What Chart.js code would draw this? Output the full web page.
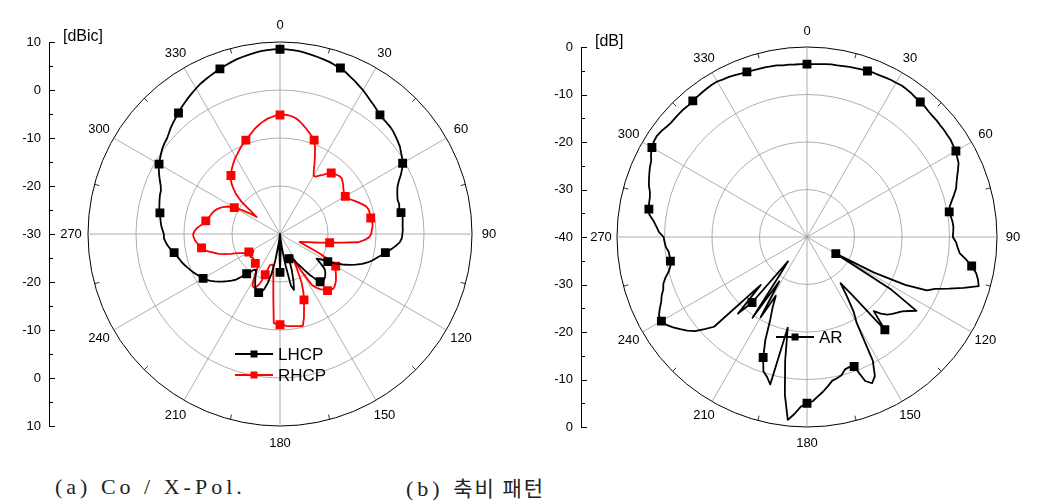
<!DOCTYPE html>
<html>
<head>
<meta charset="utf-8">
<script src="https://cdn.jsdelivr.net/npm/chart.js@4.4.1/dist/chart.umd.min.js"></script>
<style>
  body { margin: 0; background: #fff; width: 1048px; height: 504px; overflow: hidden; position: relative; }
  canvas { position: absolute; top: 0; }
  #c1 { left: 0; }
  #c2 { left: 524px; }
  .cap { position: absolute; top: 473px; height: 28px; line-height: 28px; font-size: 22px;
         font-family: "Liberation Serif", "Noto Sans CJK KR", serif; letter-spacing: 4px;
         color: #222; white-space: pre; }
  .cap span { font-family: "Noto Sans CJK KR", sans-serif; font-size: 21px; letter-spacing: 2px; line-height: 28px; }
</style>
</head>
<body>
<canvas id="c1" width="524" height="470"></canvas>
<canvas id="c2" width="524" height="470"></canvas>
<div class="cap" style="left:55px">(a) Co / X-Pol.</div>
<div class="cap" style="left:406px">(b) <span>축비 패턴</span></div>
<script>
// angle categories, 2 degree steps (0 at top, clockwise)
const angles = Array.from({ length: 180 }, (_, i) => i * 2);
const angleLabels = [0, 30, 60, 90, 120, 150, 180, 210, 240, 270, 300, 330];

const gainTicks = [-30, -20, -10, 0, 10];
const gainMinor = [-25, -15, -5, 5];
const arTicks = [-40, -30, -20, -10, 0];
const arMinor = [-35, -25, -15, -5];

// (a) co-pol / x-pol, dBic
const lhcp = [
  8.5, 8.5, 8.4, 8.3, 8.1, 7.9, 7.7, 7.5, 7.3, 7.0,
  6.8, 6.4, 5.9, 5.5, 5.0, 4.6, 4.1, 3.6, 3.2, 2.8,
  2.4, 2.2, 2.1, 2.0, 1.8, 1.5, 1.2, 0.9, 0.4, 0.0,
  -0.5, -1.2, -2.0, -2.9, -3.6, -4.0, -4.3, -4.5, -4.4, -4.6,
  -4.4, -4.2, -4.3, -4.4, -4.4, -4.5, -4.6, -5.0, -5.8, -6.7,
  -7.7, -8.5, -9.3, -10.0, -10.8, -11.8, -13.0, -14.2, -15.5, -17.0,
  -18.5, -20.0, -20.8, -19.5, -18.2, -17.7, -17.3, -17.0, -16.8, -16.6,
  -17.0, -18.2, -19.5, -21.0, -22.2, -23.0, -24.0, -24.8, -25.2, -25.0,
  -24.5, -22.0, -19.8, -18.0, -19.0, -23.5, -27.0, -29.5, -30.0, -26.0,
  -22.0, -26.5, -30.0, -30.0, -28.0, -24.5, -21.5, -19.5, -18.0, -17.3,
  -17.0, -17.2, -17.5, -18.2, -19.0, -19.8, -20.5, -21.0, -20.8, -20.0,
  -19.2, -18.0, -16.8, -16.0, -15.3, -14.6, -13.9, -13.2, -12.5, -12.0,
  -11.5, -11.1, -10.7, -10.3, -9.9, -9.5, -9.1, -8.7, -8.4, -8.0,
  -7.6, -7.0, -6.5, -6.1, -5.8, -5.8, -5.5, -5.2, -5.0, -4.8,
  -4.6, -4.3, -4.1, -3.9, -3.7, -3.6, -3.2, -2.6, -2.0, -1.4,
  -0.9, -0.5, -0.1, 0.3, 0.6, 0.8, 1.2, 1.7, 2.1, 2.5,
  2.9, 3.4, 3.8, 4.2, 4.6, 5.0, 5.4, 5.7, 6.0, 6.3,
  6.6, 6.9, 7.2, 7.5, 7.7, 7.9, 8.1, 8.3, 8.4, 8.5
];
const rhcp = [
  -5.2, -5.1, -5.2, -5.4, -5.7, -6.2, -6.8, -7.4, -8.0, -8.6,
  -9.2, -10.5, -12.1, -13.6, -15.0, -16.0, -15.9, -15.3, -14.8, -14.0,
  -13.4, -13.1, -12.9, -12.7, -12.7, -13.0, -13.3, -13.7, -14.0, -14.2,
  -14.3, -14.0, -13.6, -13.0, -12.4, -11.8, -11.2, -10.9, -10.8, -10.8,
  -10.8, -10.7, -10.6, -10.7, -10.9, -11.0, -11.4, -12.3, -13.6, -17.0,
  -19.5, -21.3, -22.7, -23.8, -24.5, -25.2, -25.6, -24.0, -21.0, -17.8,
  -16.6, -16.4, -16.0, -15.6, -15.2, -14.8, -14.5, -14.2, -14.1, -14.3,
  -14.6, -15.2, -15.8, -16.5, -17.5, -21.0, -24.0, -22.0, -19.0, -17.0,
  -15.4, -13.8, -11.9, -10.3, -10.4, -10.5, -10.6, -10.7, -10.8, -11.0,
  -11.1, -11.2, -11.4, -16.7, -20.0, -22.0, -23.3, -23.4, -23.3, -23.2,
  -21.0, -18.9, -18.0, -17.6, -17.8, -19.0, -20.5, -21.8, -22.3, -22.2,
  -22.0, -21.8, -22.0, -22.3, -22.5, -22.4, -22.2, -22.8, -23.2, -23.5,
  -22.5, -21.5, -20.9, -20.2, -19.0, -17.8, -16.6, -15.8, -14.8, -13.8,
  -13.4, -13.0, -12.6, -12.2, -12.0, -11.9, -12.2, -12.6, -13.3, -13.9,
  -14.3, -14.6, -14.9, -15.1, -15.3, -15.6, -16.0, -16.5, -17.1, -17.8,
  -19.0, -20.5, -22.2, -24.0, -22.5, -19.5, -17.8, -16.6, -15.5, -14.6,
  -14.1, -13.5, -13.0, -12.5, -12.0, -11.5, -11.1, -10.6, -10.1, -9.6,
  -9.2, -8.7, -8.2, -7.6, -7.1, -6.6, -6.2, -5.8, -5.6, -5.3
];

// (b) axial ratio pattern, dB
const ar = [
  -3.6, -3.6, -3.5, -3.4, -3.3, -3.3, -3.2, -3.1, -3.0, -2.9,
  -2.8, -2.7, -2.7, -2.6, -2.5, -2.5, -2.4, -2.5, -2.6, -2.8,
  -2.9, -3.0, -3.2, -3.3, -3.3, -3.4, -3.4, -3.5, -3.5, -3.7,
  -3.8, -4.2, -4.5, -5.2, -5.9, -6.5, -7.0, -7.8, -8.6, -9.3,
  -9.6, -9.4, -9.2, -9.1, -9.2, -9.3, -8.6, -8.2, -7.7, -6.2,
  -4.8, -3.6, -2.9, -2.4, -5.3, -8.2, -10.9, -12.4, -17.0, -24.0,
  -33.0, -19.0, -12.2, -13.5, -14.6, -15.2, -15.8, -16.5, -17.6, -19.0,
  -14.5, -24.5, -28.0, -25.0, -21.5, -19.0, -10.5, -7.4, -6.3, -7.3,
  -11.0, -11.2, -11.0, -10.0, -9.6, -9.3, -8.3, -7.3, -6.4, -5.4,
  -5.0, -4.3, -2.7, -1.3, -6.5, -13.5, -20.5, -8.0, -9.4, -10.3,
  -13.0, -16.6, -21.0, -23.5, -26.0, -20.5, -29.0, -19.5, -31.0, -33.5,
  -22.0, -18.3, -26.0, -12.8, -11.0, -9.2, -8.0, -7.0, -6.0, -5.1,
  -4.6, -4.7, -5.5, -6.4, -7.0, -7.8, -8.2, -9.0, -10.0, -10.6,
  -10.8, -10.8, -10.7, -10.2, -10.0, -9.8, -8.8, -8.2, -7.5, -6.5,
  -6.2, -6.0, -5.9, -5.6, -5.0, -4.6, -4.2, -3.8, -3.5, -2.8,
  -2.3, -2.0, -1.9, -2.1, -2.4, -2.6, -2.6, -2.6, -2.6, -2.7,
  -2.6, -2.5, -2.4, -2.3, -2.2, -2.2, -2.4, -2.5, -2.7, -2.9,
  -3.0, -3.1, -3.2, -3.2, -3.3, -3.3, -3.5, -3.5, -3.6, -3.6
];

Chart.defaults.font.family = '"Liberation Sans", Arial, sans-serif';
Chart.defaults.color = '#000';

// frame: angle labels, outer ticks, side dB axis, unit label and legend
const polarDecor = {
  id: 'polarDecor',
  afterDraw(chart, args, opts) {
    const s = chart.scales.r;
    const ctx = chart.ctx;
    const cx = s.xCenter, cy = s.yCenter, R = s.drawingArea;
    const deg = Math.PI / 180;
    ctx.save();

    // small ticks on the outer ring, halfway between spokes
    ctx.strokeStyle = '#000';
    ctx.lineWidth = 0.8;
    for (let a = 15; a < 360; a += 30) {
      const i = angles.indexOf(a - 1);
      const p1 = s.getPointPosition(i, R, deg);
      const p2 = s.getPointPosition(i, R - 5, deg);
      ctx.beginPath();
      ctx.moveTo(p1.x, p1.y);
      ctx.lineTo(p2.x, p2.y);
      ctx.stroke();
    }

    // angle labels
    ctx.fillStyle = '#000';
    ctx.font = '13px "Liberation Sans", Arial, sans-serif';
    ctx.textAlign = 'center';
    ctx.textBaseline = 'middle';
    angleLabels.forEach(a => {
      const p = s.getPointPosition(angles.indexOf(a), R + opts.labelGap);
      ctx.fillText(String(a), p.x, p.y);
    });

    // vertical dB axis at the left, mirrored about the centre
    const ax = opts.axisX;
    ctx.lineWidth = 1;
    ctx.beginPath();
    ctx.moveTo(ax + 0.5, cy - R);
    ctx.lineTo(ax + 0.5, cy + R);
    ctx.stroke();
    ctx.textAlign = 'right';
    const mirrored = d => (d > 0.5 ? [cy - d, cy + d] : [cy]);
    opts.ticks.forEach(v => {
      const d = s.getDistanceFromCenterForValue(v);
      mirrored(d).forEach(y => {
        ctx.beginPath();
        ctx.moveTo(ax, Math.round(y) + 0.5);
        ctx.lineTo(ax + 6, Math.round(y) + 0.5);
        ctx.stroke();
        ctx.fillText(String(v), ax - 8, y);
      });
    });
    opts.minor.forEach(v => {
      const d = s.getDistanceFromCenterForValue(v);
      mirrored(d).forEach(y => {
        ctx.beginPath();
        ctx.moveTo(ax, Math.round(y) + 0.5);
        ctx.lineTo(ax + 4, Math.round(y) + 0.5);
        ctx.stroke();
      });
    });
    ctx.textAlign = 'left';
    ctx.font = '16px "Liberation Sans", Arial, sans-serif';
    ctx.fillText(opts.unit, ax + 14, cy - R - 5);

    // legend
    ctx.font = '17px "Liberation Sans", Arial, sans-serif';
    chart.data.datasets.forEach((ds, k) => {
      const x0 = cx + opts.legendX, y = cy + opts.legendY + k * 21;
      ctx.strokeStyle = ds.borderColor;
      ctx.lineWidth = 2;
      ctx.beginPath();
      ctx.moveTo(x0, y);
      ctx.lineTo(x0 + 38, y);
      ctx.stroke();
      ctx.fillStyle = ds.borderColor;
      ctx.fillRect(x0 + 19 - 3.5, y - 3.5, 7, 7);
      ctx.fillStyle = '#000';
      ctx.fillText(ds.label, x0 + 43, y + 1);
    });
    ctx.restore();
  }
};

function series(label, data, color) {
  return {
    label: label,
    data: data,
    borderColor: color,
    backgroundColor: color,
    pointBackgroundColor: color,
    pointBorderColor: color,
    borderWidth: 1.8,
    fill: false,
    tension: 0,
    borderJoinStyle: 'round',
    pointStyle: 'rect',
    pointRadius: ctx => (ctx.dataIndex % 10 === 0 ? 5 : 0),
    pointHoverRadius: 0
  };
}

function polarOptions(min, max, padding, decor) {
  return {
    responsive: false,
    animation: false,
    events: [],
    layout: { padding: padding },
    plugins: { legend: { display: false }, tooltip: { enabled: false }, polarDecor: decor },
    scales: {
      r: {
        min: min,
        max: max,
        ticks: { display: false, stepSize: 10 },
        pointLabels: { display: false },
        grid: {
          circular: true,
          color: ctx => (ctx.tick && ctx.tick.value === max ? '#000' : '#9a9a9a'),
          lineWidth: ctx => (ctx.tick && ctx.tick.value === max ? 1 : 0.8)
        },
        angleLines: {
          color: '#9a9a9a',
          lineWidth: ctx => (ctx.index % 15 === 0 ? 0.8 : 0)
        }
      }
    }
  };
}

new Chart(document.getElementById('c1'), {
  type: 'radar',
  data: {
    labels: angles,
    datasets: [series('LHCP', lhcp, '#000000'), series('RHCP', rhcp, '#ff0000')]
  },
  options: polarOptions(-30, 10, { left: 88, right: 52, top: 42, bottom: 44 },
    { axisX: 49, ticks: gainTicks, minor: gainMinor, unit: '[dBic]', labelGap: 17, legendX: -45, legendY: 120 }),
  plugins: [polarDecor]
});

new Chart(document.getElementById('c2'), {
  type: 'radar',
  data: {
    labels: angles,
    datasets: [series('AR', ar, '#000000')]
  },
  options: polarOptions(-40, 0, { left: 93, right: 51, top: 47, bottom: 43 },
    { axisX: 57, ticks: arTicks, minor: arMinor, unit: '[dB]', labelGap: 16, legendX: -31, legendY: 100 }),
  plugins: [polarDecor]
});
</script>
</body>
</html>
